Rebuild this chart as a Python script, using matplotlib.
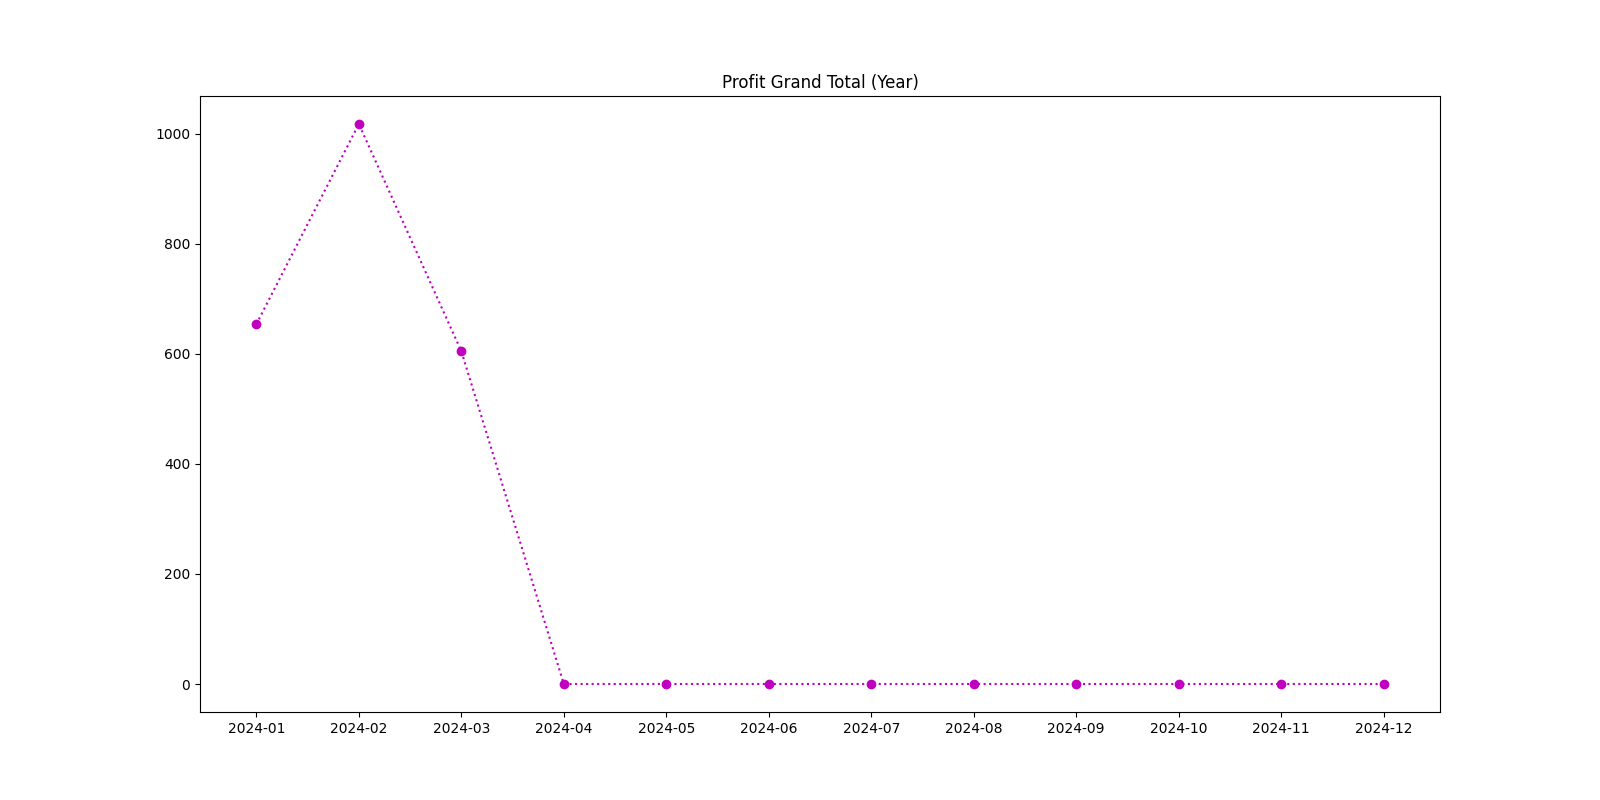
import matplotlib
matplotlib.use("Agg")
import matplotlib.pyplot as plt

months = ["2024-01","2024-02","2024-03","2024-04","2024-05","2024-06",
          "2024-07","2024-08","2024-09","2024-10","2024-11","2024-12"]
profit = [654, 1018, 605, 0, 0, 0, 0, 0, 0, 0, 0, 0]

fig, ax = plt.subplots(figsize=(16, 8), dpi=100)
ax.plot(months, profit, linestyle=":", marker="o", color="m")
ax.set_title("Profit Grand Total (Year)")
fig.savefig("out.png")
